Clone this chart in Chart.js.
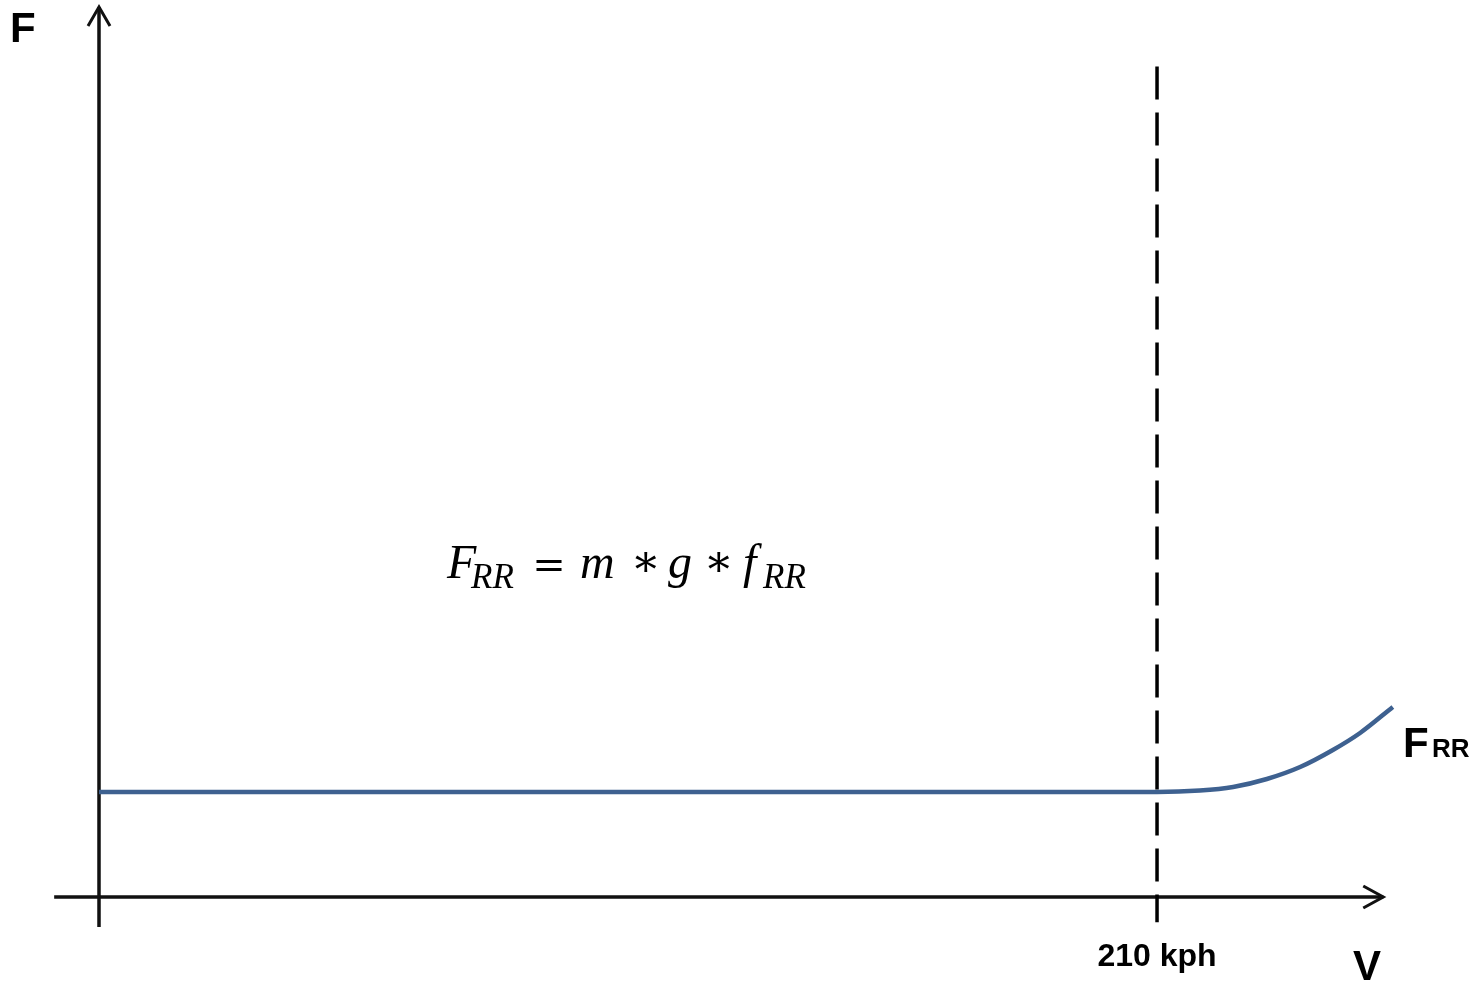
<!DOCTYPE html>
<html>
<head>
<meta charset="utf-8">
<script src="https://cdn.jsdelivr.net/npm/chart.js@4.4.0/dist/chart.umd.min.js"></script>
<style>
  html, body { margin: 0; padding: 0; background: #fff; }
  #wrap { width: 1482px; height: 984px; }
</style>
</head>
<body>
<div id="wrap"><canvas id="chart" width="1482" height="984"></canvas></div>
<script>
// Rolling resistance vs speed: flat up to 210 kph, rising afterwards
const speedKph = [0, 210, 218.5, 225.1, 231.8, 238.4, 244.9, 250.3, 256.8];
const forceRR  = [100, 100, 101.4, 104.8, 112.4, 123.8, 140, 156.2, 181];

// Critical speed marker
const criticalSpeed = [210, 210];
const criticalSpan  = [791, -24];

// Axis extents (arrows) in data units
const xAxisSpan = [-8.9, 254.9];
const yAxisSpan = [-28.6, 847.6];

const lineColor = '#3e6190';
const inkColor = '#111111';

// Draw the two arrowed axes and all the labels
const sketchAxes = {
    id: 'sketchAxes',
    beforeDatasetsDraw(chart) {
        const { ctx, scales: { x, y } } = chart;
        const x0 = x.getPixelForValue(0);
        const y0 = y.getPixelForValue(0);
        const xEnd = x.getPixelForValue(xAxisSpan[1]);
        const yTop = y.getPixelForValue(yAxisSpan[1]);

        ctx.save();
        ctx.strokeStyle = inkColor;
        ctx.lineWidth = 3.5;
        ctx.lineCap = 'butt';
        ctx.beginPath();
        // vertical axis
        ctx.moveTo(x0, y.getPixelForValue(yAxisSpan[0]));
        ctx.lineTo(x0, yTop);
        // horizontal axis
        ctx.moveTo(x.getPixelForValue(xAxisSpan[0]), y0);
        ctx.lineTo(xEnd, y0);
        ctx.stroke();

        // arrow heads
        ctx.lineWidth = 3;
        ctx.lineJoin = 'miter';
        ctx.beginPath();
        ctx.moveTo(x0 - 11, yTop + 19);
        ctx.lineTo(x0, yTop);
        ctx.lineTo(x0 + 11, yTop + 19);
        ctx.moveTo(xEnd - 20, y0 - 11);
        ctx.lineTo(xEnd, y0);
        ctx.lineTo(xEnd - 20, y0 + 11);
        ctx.stroke();
        ctx.restore();
    },
    afterDraw(chart) {
        const { ctx, scales: { x } } = chart;
        ctx.save();
        ctx.fillStyle = '#000';
        ctx.textBaseline = 'alphabetic';

        // axis names
        ctx.font = 'bold 42px "Liberation Sans", Arial, sans-serif';
        ctx.textAlign = 'left';
        ctx.fillText('F', 10, 42);
        ctx.fillText('V', 1353, 980);

        // speed tick
        ctx.font = 'bold 32px "Liberation Sans", Arial, sans-serif';
        ctx.textAlign = 'center';
        ctx.fillText('210 kph', x.getPixelForValue(210), 966);

        // series label
        ctx.textAlign = 'left';
        ctx.font = 'bold 42px "Liberation Sans", Arial, sans-serif';
        ctx.fillText('F', 1403, 757);
        ctx.font = 'bold 26px "Liberation Sans", Arial, sans-serif';
        ctx.fillText('RR', 1432, 757);

        // formula: letters placed by left edge, operators by centre
        const big = 'italic 48px "Liberation Serif", "DejaVu Serif", serif';
        const sub = 'italic 35px "Liberation Serif", "DejaVu Serif", serif';
        const eq = '40px "DejaVu Serif", serif';
        const star = '44px "DejaVu Serif", serif';
        const left = 447, base = 578;
        const parts = [
            { t: 'F', f: big, dx: 0, dy: 0, a: 'left' },
            { t: 'RR', f: sub, dx: 24, dy: 10, a: 'left' },
            { t: '=', f: eq, dx: 102, dy: 0, a: 'center' },
            { t: 'm', f: big, dx: 133, dy: 0, a: 'left' },
            { t: '\u2217', f: star, dx: 199, dy: -2, a: 'center' },
            { t: 'g', f: big, dx: 221, dy: 0, a: 'left' },
            { t: '\u2217', f: star, dx: 272, dy: -2, a: 'center' },
            { t: 'f', f: big, dx: 296, dy: 0, a: 'left' },
            { t: 'RR', f: sub, dx: 316, dy: 10, a: 'left' }
        ];
        parts.forEach(p => {
            ctx.font = p.f;
            ctx.textAlign = p.a;
            ctx.fillText(p.t, left + p.dx, base + p.dy);
        });
        ctx.restore();
    }
};

new Chart(document.getElementById('chart'), {
    type: 'line',
    data: {
        datasets: [
            {
                label: 'FRR',
                data: speedKph.map((v, i) => ({ x: v, y: forceRR[i] })),
                borderColor: lineColor,
                borderWidth: 4.5,
                pointRadius: 0,
                cubicInterpolationMode: 'monotone',
                order: 2
            },
            {
                label: '210 kph',
                data: criticalSpeed.map((v, i) => ({ x: v, y: criticalSpan[i] })),
                borderColor: '#000',
                borderWidth: 3.5,
                borderDash: [33, 13],
                pointRadius: 0,
                order: 1
            }
        ]
    },
    options: {
        responsive: false,
        animation: false,
        devicePixelRatio: 1,
        layout: { padding: 0 },
        plugins: { legend: { display: false }, tooltip: { enabled: false } },
        scales: {
            x: { type: 'linear', min: -19.65, max: 274.5, display: false },
            y: { type: 'linear', min: -82.86, max: 854.3, display: false }
        }
    },
    plugins: [sketchAxes]
});
</script>
</body>
</html>
